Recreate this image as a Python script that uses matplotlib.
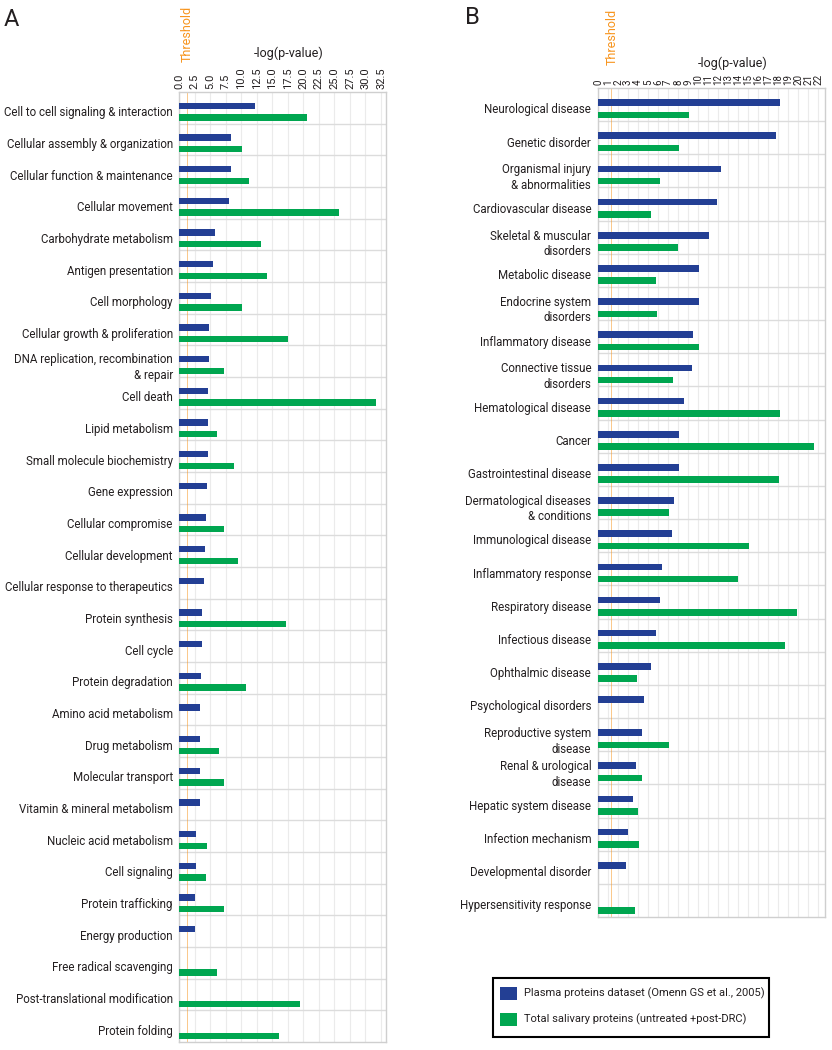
import numpy as np
import matplotlib
matplotlib.use("Agg")
import matplotlib.pyplot as plt
from matplotlib.patches import Rectangle

plt.rcParams['font.family'] = ['Roboto', 'DejaVu Sans']

# ---------------- Data ----------------
cats_a = ["Cell to cell signaling & interaction", "Cellular assembly & organization",
          "Cellular function & maintenance", "Cellular movement", "Carbohydrate metabolism",
          "Antigen presentation", "Cell morphology", "Cellular growth & proliferation",
          "DNA replication, recombination\n& repair", "Cell death", "Lipid metabolism",
          "Small molecule biochemistry", "Gene expression", "Cellular compromise",
          "Cellular development", "Cellular response to therapeutics", "Protein synthesis",
          "Cell cycle", "Protein degradation", "Amino acid metabolism", "Drug metabolism",
          "Molecular transport", "Vitamin & mineral metabolism", "Nucleic acid metabolism",
          "Cell signaling", "Protein trafficking", "Energy production", "Free radical scavenging",
          "Post-translational modification", "Protein folding"]
plasma_a = [12.3, 8.3, 8.3, 8.1, 5.8, 5.4, 5.2, 4.8, 4.8, 4.6, 4.6, 4.6, 4.5, 4.4, 4.2,
            4.0, 3.75, 3.7, 3.5, 3.4, 3.4, 3.4, 3.4, 2.8, 2.7, 2.6, 2.5, 0, 0, 0]
saliva_a = [20.6, 10.2, 11.3, 25.8, 13.2, 14.2, 10.1, 17.5, 7.2, 31.7, 6.1, 8.9, 0, 7.3, 9.5,
            0, 17.2, 0, 10.8, 0, 6.5, 7.3, 0, 4.5, 4.4, 7.3, 0, 6.1, 19.4, 16.1]

cats_b = ["Neurological disease", "Genetic disorder", "Organismal injury\n& abnormalities",
          "Cardiovascular disease", "Skeletal & muscular\ndisorders", "Metabolic disease",
          "Endocrine system\ndisorders", "Inflammatory disease", "Connective tissue\ndisorders",
          "Hematological disease", "Cancer", "Gastrointestinal disease",
          "Dermatological diseases\n& conditions", "Immunological disease",
          "Inflammatory response", "Respiratory disease", "Infectious disease",
          "Ophthalmic disease", "Psychological disorders", "Reproductive system\ndisease",
          "Renal & urological\ndisease", "Hepatic system disease", "Infection mechanism",
          "Developmental disorder", "Hypersensitivity response"]
plasma_b = [18.2, 17.8, 12.3, 11.9, 11.1, 10.1, 10.1, 9.5, 9.4, 8.6, 8.1, 8.1, 7.6, 7.4,
            6.4, 6.2, 5.8, 5.3, 4.6, 4.4, 3.8, 3.5, 3.0, 2.8, 0]
saliva_b = [9.1, 8.1, 6.2, 5.3, 8.0, 5.8, 5.9, 10.1, 7.5, 18.2, 21.6, 18.1, 7.1, 15.1,
            14.0, 19.9, 18.7, 3.9, 0, 7.1, 4.4, 4.0, 4.1, 0, 3.7]

ticks_a = [0.0, 2.5, 5.0, 7.5, 10.0, 12.5, 15.0, 17.5, 20.0, 22.5, 25.0, 27.5, 30.0, 32.5]
ticks_b = list(range(0, 23))
threshold = 1.3

legend_labels = ["Plasma proteins dataset (Omenn GS et al., 2005)",
                 "Total salivary proteins (untreated +post-DRC)"]

BLUE = "#233f94"
GREEN = "#00a650"
ORANGE = "#f7941d"
TXT = "#231f20"

W, H = 832, 1050
fig = plt.figure(figsize=(W / 100, H / 100), dpi=100)


def fx(x):
    return x / W


def fy(y):
    return 1 - y / H


def ax_rect(x0, y0, x1, y1):
    return [x0 / W, 1 - y1 / H, (x1 - x0) / W, (y1 - y0) / H]


def panel(rect, cats, blue, green, ticks, xmax, fmt, label_fs, tick_fs):
    ax = fig.add_axes(rect)
    n = len(cats)
    y = np.arange(n)
    ax.barh(y - 0.06, blue, height=0.2, color=BLUE, zorder=3)
    ax.barh(y + 0.31, green, height=0.2, color=GREEN, zorder=3)
    ax.set_ylim(n - 0.5, -0.5)
    ax.set_xlim(0, xmax)
    ax.set_xticks(ticks)
    ax.set_xticklabels([fmt(t) for t in ticks], rotation=90, fontsize=tick_fs, color=TXT)
    ax.xaxis.tick_top()
    ax.tick_params(axis='x', length=0, pad=2)
    ax.set_yticks([])
    for t in ticks:
        ax.axvline(t, color="#ebebeb", lw=0.8, zorder=1)
    for k in range(n - 1):
        ax.axhline(k + 0.5, color="#dcdcdc", lw=1.0, zorder=2)
    ax.axvline(threshold, color=ORANGE, lw=0.6, alpha=0.6, zorder=2)
    for s in ax.spines.values():
        s.set_color("#cfcfcf")
        s.set_linewidth(1.0)
    for k, c in enumerate(cats):
        yy = k + 0.16 if "\n" not in c else k + 0.2
        ax.text(-0.03, yy, c, transform=ax.get_yaxis_transform(), ha='right', va='center',
                fontsize=label_fs, color=TXT, linespacing=1.25)
    return ax


axA = panel(ax_rect(179, 92, 386, 1042), cats_a, plasma_a, saliva_a, ticks_a, 33.3,
            lambda t: f"{t:.1f}", 8.3, 8)
axB = panel(ax_rect(598, 88, 825, 917), cats_b, plasma_b, saliva_b, ticks_b, 22.7,
            lambda t: f"{int(t)}", 8.3, 7)

# titles
fig.text(fx(289), fy(53), "-log(p-value)", ha='center', va='center', fontsize=9, color=TXT)
fig.text(fx(733), fy(63), "-log(p-value)", ha='center', va='center', fontsize=9, color=TXT)
fig.text(fx(187), fy(34), "Threshold", ha='center', va='center', rotation=90, fontsize=9, color=ORANGE)
fig.text(fx(612), fy(37), "Threshold", ha='center', va='center', rotation=90, fontsize=9, color=ORANGE)
fig.text(fx(4), fy(20), "A", ha='left', va='center', fontsize=17, color=TXT)
fig.text(fx(465), fy(18), "B", ha='left', va='center', fontsize=17, color=TXT)

# legend (drawn as a framed box with colour keys)
fig.patches.append(Rectangle((fx(493), fy(1037)), fx(769) - fx(493), fy(978) - fy(1037),
                             transform=fig.transFigure, facecolor='white', edgecolor='black',
                             lw=1.5, zorder=5))
for (col, lab, yc) in [(BLUE, legend_labels[0], 993), (GREEN, legend_labels[1], 1019.5)]:
    fig.patches.append(Rectangle((fx(500), fy(yc + 6.5)), fx(517) - fx(500), fy(yc - 6.5) - fy(yc + 6.5),
                                 transform=fig.transFigure, facecolor=col, edgecolor='none', zorder=6))
    fig.text(fx(524), fy(yc), lab, ha='left', va='center', fontsize=8.05, color=TXT, zorder=7)

fig.savefig("out.png", dpi=100)
